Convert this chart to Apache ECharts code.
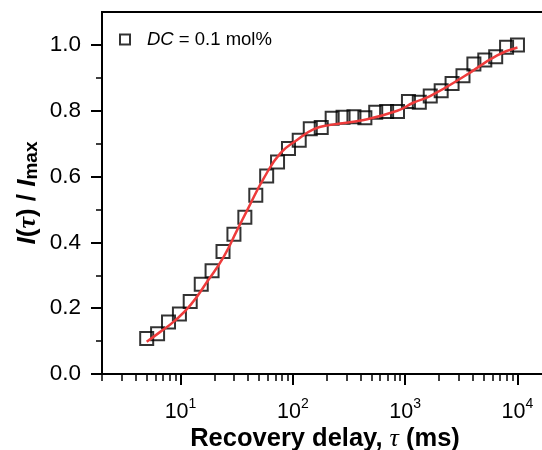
<!DOCTYPE html>
<html>
<head>
<meta charset="utf-8">
<script src="https://cdn.jsdelivr.net/npm/echarts@6/dist/echarts.min.js"></script>
<style>
  html, body { margin: 0; padding: 0; background: #fff; }
  #chart { width: 542px; height: 450px; }
</style>
</head>
<body>
<div id="chart"></div>
<script>
// measured points (recovery delay in ms, normalised intensity)
const delayMs = [5, 6.25, 7.82, 9.78, 12.2, 15.3, 19.1, 23.9, 29.9, 37.4, 46.8, 58.5, 73.1, 91.5, 114, 143, 179, 224, 280, 350, 438, 547, 684, 855, 1070, 1337, 1673, 2093, 2617, 3273, 4093, 5118, 6400, 8000, 10000]
const intensity = [0.108, 0.122, 0.158, 0.182, 0.220, 0.273, 0.314, 0.372, 0.425, 0.476, 0.543, 0.602, 0.644, 0.685, 0.710, 0.745, 0.749, 0.777, 0.780, 0.782, 0.779, 0.795, 0.798, 0.798, 0.828, 0.826, 0.845, 0.861, 0.883, 0.906, 0.942, 0.954, 0.964, 0.993, 1.000]

// fit curve
const fitDelayMs = [5, 6.6, 8.7, 12.3, 17.3, 24.3, 32, 39.3, 55.2, 77.6, 109, 154, 217, 429, 851, 1194, 1683, 3333, 6600, 10000]
const fitIntensity = [0.098, 0.128, 0.159, 0.210, 0.281, 0.357, 0.438, 0.498, 0.595, 0.671, 0.711, 0.744, 0.757, 0.772, 0.800, 0.825, 0.845, 0.904, 0.968, 0.992]

const xMajorTicks = [10, 100, 1000, 10000]
const xMinorTicks = [2, 3, 4, 5, 6, 7, 8, 9, 20, 30, 40, 50, 60, 70, 80, 90, 200, 300, 400, 500, 600, 700, 800, 900, 2000, 3000, 4000, 5000, 6000, 7000, 8000, 9000]
const yMajorTicks = [0, 0.2, 0.4, 0.6, 0.8, 1.0]
const yMinorTicks = [0.1, 0.3, 0.5, 0.7, 0.9]

const FONT = 'Liberation Sans, Arial, sans-serif'
const SERIF = 'Liberation Serif, Times New Roman, serif'

const chart = echarts.init(document.getElementById('chart'))

// right edge of the frame sits just past the picture
const gridBox = { left: 102, right: -6, top: 12, bottom: 76, outerBoundsMode: 'none', containLabel: false }

chart.setOption({
  animation: false,
  textStyle: { fontFamily: FONT, color: '#000' },
  grid: [
    Object.assign({ show: true, borderColor: '#000', borderWidth: 2 }, gridBox),
    Object.assign({}, gridBox)
  ],
  legend: {
    left: 114,
    top: 25,
    itemWidth: 10,
    itemHeight: 10,
    data: [{ name: 'DC', icon: 'rect' }],
    formatter: () => '{i|DC}{n| = 0.1 mol%}',
    textStyle: {
      fontSize: 18,
      color: '#000',
      rich: {
        i: { fontSize: 18.5, fontStyle: 'italic', padding: [0, 0, 0, 12] },
        n: { fontSize: 18.5 }
      }
    }
  },
  xAxis: [
    {
      gridIndex: 0,
      type: 'log',
      logBase: 10,
      min: 2,
      max: 18700,
      name: 'Recovery delay, {t|τ} (ms)',
      nameLocation: 'middle',
      nameGap: 52,
      nameMoveOverlap: false,
      nameTextStyle: {
        fontSize: 25.5, fontWeight: 'bold', color: '#000',
        rich: { t: { fontFamily: SERIF, fontStyle: 'italic', fontSize: 26, fontWeight: 'normal' } }
      },
      axisLine: { lineStyle: { color: '#000', width: 2 } },
      axisTick: { customValues: xMajorTicks, length: 11, lineStyle: { width: 2, color: '#000' } },
      axisLabel: {
        customValues: xMajorTicks,
        margin: 23,
        formatter: (v) => '{b|10}{s|' + Math.round(Math.log10(v)) + '}',
        rich: {
          b: { fontSize: 21.5, lineHeight: 26, verticalAlign: 'bottom', color: '#000' },
          s: { fontSize: 14, lineHeight: 15, verticalAlign: 'top', color: '#000' }
        }
      },
      splitLine: { show: false }
    },
    {
      gridIndex: 1,
      type: 'log',
      logBase: 10,
      min: 2,
      max: 18700,
      axisLine: { show: false },
      axisTick: { customValues: xMinorTicks, length: 7, lineStyle: { width: 1.5, color: '#000' } },
      axisLabel: { show: false },
      splitLine: { show: false }
    }
  ],
  yAxis: [
    {
      gridIndex: 0,
      type: 'value',
      min: 0,
      max: 1.1,
      name: '{i|I}{n|(}{t|τ}{n|) / }{i|I}{s|max}',
      nameLocation: 'middle',
      nameRotate: 90,
      nameGap: 61,
      nameMoveOverlap: false,
      nameTextStyle: {
        fontSize: 26, fontWeight: 'bold', color: '#000',
        rich: {
          i: { fontSize: 26, fontWeight: 'bold', fontStyle: 'italic', lineHeight: 30, verticalAlign: 'bottom' },
          n: { fontSize: 26, fontWeight: 'bold', lineHeight: 30, verticalAlign: 'bottom' },
          t: { fontFamily: SERIF, fontStyle: 'italic', fontSize: 26, lineHeight: 30, verticalAlign: 'bottom' },
          s: { fontSize: 19, fontWeight: 'bold', lineHeight: 17, verticalAlign: 'bottom' }
        }
      },
      axisLine: { lineStyle: { color: '#000', width: 2 } },
      axisTick: { customValues: yMajorTicks, length: 11, lineStyle: { width: 2, color: '#000' } },
      axisLabel: {
        customValues: yMajorTicks,
        margin: 21,
        fontSize: 22.5,
        color: '#000',
        formatter: (v) => v.toFixed(1)
      },
      splitLine: { show: false }
    },
    {
      gridIndex: 1,
      type: 'value',
      min: 0,
      max: 1.1,
      axisLine: { show: false },
      axisTick: { customValues: yMinorTicks, length: 6, lineStyle: { width: 1.5, color: '#000' } },
      axisLabel: { show: false },
      splitLine: { show: false }
    }
  ],
  series: [
    {
      name: 'DC',
      type: 'scatter',
      xAxisIndex: 0,
      yAxisIndex: 0,
      symbol: 'rect',
      symbolSize: 13,
      itemStyle: { color: 'rgba(0,0,0,0)', borderColor: '#000', borderWidth: 2 },
      data: delayMs.map((d, i) => [d, intensity[i]])
    },
    {
      name: 'fit',
      type: 'line',
      xAxisIndex: 0,
      yAxisIndex: 0,
      smooth: true,
      showSymbol: false,
      lineStyle: { color: '#ee3b3b', width: 2.5 },
      data: fitDelayMs.map((d, i) => [d, fitIntensity[i]]),
      z: 3
    }
  ]
})
</script>
</body>
</html>
